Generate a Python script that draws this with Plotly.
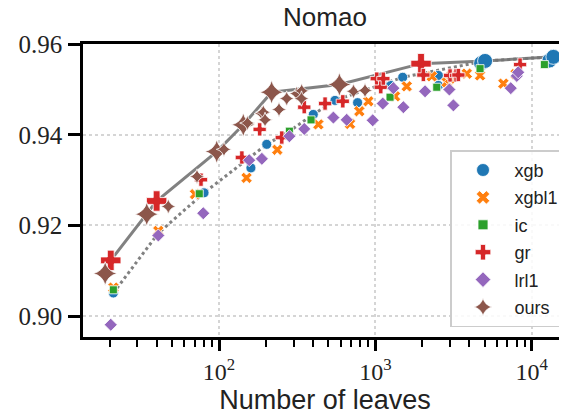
import plotly.graph_objects as go

# ---------------- data ----------------
xgb_x = [21.1, 80.2, 160, 202, 401, 552, 770, 1255, 1497, 2530, 2530, 4750, 5035, 13000, 13770]
xgb_y = [0.9051, 0.9272, 0.9327, 0.9379, 0.9445, 0.9476, 0.9471, 0.9509, 0.9527, 0.9531, 0.9509,
         0.9558, 0.9563, 0.9564, 0.9572]

xgbl1_x = [21.1, 40.9, 70.2, 150, 236, 432, 689, 790, 902, 1337, 1588, 2296, 2864, 3006, 3082,
           3845, 4675, 6592, 7900]
xgbl1_y = [0.9063, 0.9188, 0.9269, 0.9305, 0.9367, 0.9423, 0.9424, 0.9452, 0.9474, 0.9485, 0.9507,
           0.9529, 0.9516, 0.9524, 0.9531, 0.9535, 0.9531, 0.9513, 0.9534]

ic_x = [21.1, 74.8, 282, 388, 1242, 2471, 4675, 12060]
ic_y = [0.9058, 0.9270, 0.9408, 0.9433, 0.9483, 0.9505, 0.9546, 0.9555]

gr_x = [20.3, 39.9, 76.7, 140, 182, 252, 351, 477, 619, 1021, 1083, 1125, 1960, 2029, 3006, 3283,
        3397, 8430]
gr_y = [0.9123, 0.9254, 0.9301, 0.9350, 0.9412, 0.9394, 0.9461, 0.9469, 0.9474, 0.9524, 0.9505,
        0.9524, 0.9557, 0.9532, 0.9531, 0.9531, 0.9532, 0.9555]

lrl1_x = [20.3, 40.9, 79.3, 156, 188, 282, 351, 539, 656, 962, 1115, 1304, 1511, 2080, 2975, 3157,
          7350, 8030, 8200]
lrl1_y = [0.8981, 0.9178, 0.9227, 0.9344, 0.9347, 0.9397, 0.9413, 0.9438, 0.9433, 0.9432, 0.9469,
          0.9503, 0.9461, 0.9496, 0.9500, 0.9465, 0.9503, 0.9530, 0.9538]

ours_x = [18.7, 34.5, 47.4, 72.3, 96.7, 107.6, 143, 152, 188, 192, 197, 217, 242, 271, 314, 338,
          337, 589, 725, 859]
ours_y = [0.9094, 0.9225, 0.9242, 0.9308, 0.9363, 0.9368, 0.9422, 0.9426, 0.9447, 0.9450, 0.9433,
          0.9494, 0.9456, 0.9480, 0.9491, 0.9497, 0.9480, 0.9511, 0.9496, 0.9498]

# highlighted (large) points per series
xgb_big = [4750, 5035, 13000, 13770]
gr_big = [20.3, 39.9, 1960]
ours_big = [18.7, 34.5, 96.7, 143, 217, 589]

# solid frontier and dotted reference curve
front_x = [20.3, 34.5, 39.9, 96.7, 143, 217, 589, 1960, 5035, 13770]
front_y = [0.9123, 0.9225, 0.9254, 0.9363, 0.9422, 0.9494, 0.9511, 0.9557, 0.9563, 0.9572]
dot_x = [21.1, 40.9, 80.2, 202, 282, 401, 552, 1497, 5035, 13770]
dot_y = [0.9051, 0.9183, 0.9272, 0.9379, 0.9408, 0.9445, 0.9476, 0.9527, 0.9563, 0.9572]

x_ticks = [100, 1000, 10000]
x_ticktext = ["10<sup>2</sup>", "10<sup>3</sup>", "10<sup>4</sup>"]
y_ticks = [0.90, 0.92, 0.94, 0.96]
y_ticktext = ["0.90", "0.92", "0.94", "0.96"]

# ---------------- figure ----------------
fig = go.Figure()

fig.add_trace(go.Scatter(x=front_x, y=front_y, mode="lines",
                         line=dict(color="rgba(115,115,115,0.9)", width=3),
                         showlegend=False, hoverinfo="skip"))
fig.add_trace(go.Scatter(x=dot_x, y=dot_y, mode="lines",
                         line=dict(color="rgba(115,115,115,0.9)", width=3, dash="dot"),
                         showlegend=False, hoverinfo="skip"))

series = [
    ("xgb", xgb_x, xgb_y, xgb_big, "#1f77b4", "circle", 10, 15, 13),
    ("xgbl1", xgbl1_x, xgbl1_y, [], "#ff7f0e", "x", 10, 15, 12),
    ("ic", ic_x, ic_y, [], "#2ca02c", "square", 8, 12, 10),
    ("gr", gr_x, gr_y, gr_big, "#d62728", "cross", 11, 17, 13),
    ("lrl1", lrl1_x, lrl1_y, [], "#9467bd", "diamond", 10, 14, 12),
    ("ours", ours_x, ours_y, ours_big, "#8c564b", "star-diamond", 11, 17, 13),
]

for name, xs, ys, big, color, sym, s_small, s_big, s_leg in series:
    sizes = [s_big if x in big else s_small for x in xs]
    fig.add_trace(go.Scatter(
        x=xs, y=ys, mode="markers", name=name, legendgroup=name, showlegend=False,
        opacity=1,
        marker=dict(color=color, symbol=sym, size=sizes, opacity=1,
                    line=dict(color="white", width=0.8)),
    ))
    # legend entry with a fixed symbol size
    fig.add_trace(go.Scatter(
        x=[None], y=[None], mode="markers", name=name, legendgroup=name, showlegend=True,
        marker=dict(color=color, symbol=sym, size=s_leg, opacity=1,
                    line=dict(color="white", width=0.8)),
    ))

serif = "Liberation Serif"
sans = "Liberation Sans"

# the page adds an 8px body margin, so the figure is 8px smaller than the window
W, H = 559, 408
L, T, B = 75, 35.5, 79.3
PW = W - L

fig.update_layout(
    template="none",
    width=W, height=H,
    margin=dict(l=L, r=0, t=T, b=B, pad=0),
    paper_bgcolor="white", plot_bgcolor="white",
    font=dict(family=sans, color="#222222"),
    title=dict(text="Nomao", x=(L + W) / 2 / W, xref="container", xanchor="center",
               y=1, yref="container", yanchor="top", pad=dict(t=0, b=0),
               font=dict(family=sans, size=26, color="#222222")),
    legend=dict(x=(442 - L) / PW, xanchor="left", y=(328.7 - 319) / (H - T - B), yanchor="bottom",
                font=dict(family=sans, size=18, color="#222222"),
                bgcolor="rgba(255,255,255,0.85)", bordercolor="#cccccc", borderwidth=1.5,
                itemsizing="trace", itemwidth=53, tracegroupgap=1),
    showlegend=True,
)

fig.update_xaxes(
    type="log", range=[1.130, 4.226], automargin=False,
    tickvals=x_ticks, ticktext=x_ticktext,
    tickfont=dict(family=serif, size=24, color="#222222"),
    ticks="outside", ticklen=11, tickwidth=2.5, tickcolor="black",
    showline=True, linewidth=2.7, linecolor="black", mirror=True,
    showgrid=True, gridcolor="#d5d5d5", griddash="dot", gridwidth=1.5,
    zeroline=False,
    minor=dict(ticks="outside", ticklen=7, tickwidth=2, tickcolor="black", showgrid=False,
               tickvals=[m * 10 ** e for e in (1, 2, 3, 4) for m in range(2, 10)]),
    title=dict(text="Number of leaves", font=dict(family=sans, size=27, color="#222222"),
               standoff=6),
)

fig.update_yaxes(
    range=[0.89539, 0.96004], automargin=False,
    tickvals=y_ticks, ticktext=y_ticktext,
    tickfont=dict(family=serif, size=25, color="#222222"),
    ticks="outside", ticklen=12, tickwidth=2.5, tickcolor="black",
    showline=True, linewidth=2.7, linecolor="black", mirror=False,
    showgrid=True, gridcolor="#d5d5d5", griddash="dot", gridwidth=1.5,
    zeroline=False, ticklabelstandoff=1,
    minor=dict(showgrid=False, ticks=""),
)

fig.write_html("out.html")
